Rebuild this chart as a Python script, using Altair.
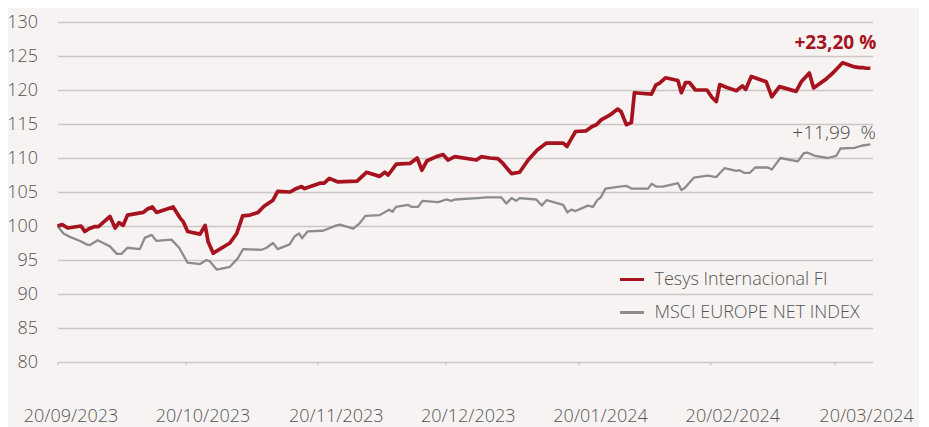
import altair as alt
import pandas as pd

START = "2023-09-20"

series_names = ["Tesys Internacional FI", "MSCI EUROPE NET INDEX"]
series_colors = ["#a6131f", "#8c8c8c"]

# days after 20/09/2023 and index values (base 100)
tesys_days = [0, 1.1, 2.4, 5.5, 6.4, 7.4, 8.6, 9.6, 12.3, 13.5, 14.4, 15.4, 16.4, 20.1, 21.1, 22.2,
              23.2, 27.1, 28.7, 29.5, 30.5, 33.4, 34.6, 35.3, 36.5, 40.4, 42.0, 43.4, 45.1, 47.0,
              48.4, 50.5, 51.6, 54.5, 55.6, 57.2, 57.9, 61.5, 62.5, 63.7, 65.6, 70.2, 72.4, 75.5,
              76.7, 77.5, 79.4, 82.6, 84.3, 85.4, 86.6, 88.8, 90.4, 91.5, 93.1, 98.2, 99.3, 101.3,
              103.2, 104.4, 106.4, 108.3, 110.3, 112.5, 114.6, 118.5, 119.4, 121.4, 123.9, 125.2,
              126.3, 127.4, 129.4, 131.3, 132.1, 133.3, 134.5, 135.2, 139.2, 140.2, 141.1, 142.5,
              145.4, 146.2, 147.2, 148.1, 149.5, 152.2, 153.4, 154.4, 155.2, 156.7, 159.1, 160.5,
              161.3, 162.6, 166.1, 167.4, 169.2, 173.1, 174.3, 176.2, 177.2, 180.1, 181.7, 184.0,
              186.8, 188.0, 188.7, 189.5, 190.5]
tesys_vals = [100.0, 100.2, 99.7, 100.0, 99.2, 99.6, 99.9, 99.9, 101.4, 99.7, 100.5, 100.1, 101.6,
              102.0, 102.5, 102.8, 102.0, 102.8, 101.2, 100.6, 99.2, 98.8, 100.1, 97.7, 96.0, 97.5,
              98.9, 101.5, 101.6, 102.0, 102.9, 103.8, 105.1, 105.0, 105.4, 105.8, 105.5, 106.3,
              106.3, 107.0, 106.5, 106.6, 107.9, 107.3, 107.9, 107.5, 109.1, 109.2, 110.0, 108.2,
              109.6, 110.2, 110.5, 109.7, 110.2, 109.7, 110.2, 110.0, 109.9, 109.2, 107.7, 107.9,
              109.7, 111.2, 112.2, 112.2, 111.7, 113.9, 114.0, 114.6, 114.9, 115.6, 116.3, 117.2,
              116.8, 114.9, 115.2, 119.6, 119.4, 120.7, 121.0, 121.8, 121.4, 119.6, 121.1, 121.1,
              120.0, 120.0, 118.9, 118.3, 120.8, 120.4, 119.9, 120.6, 120.1, 122.0, 121.2, 119.0,
              120.5, 119.8, 121.2, 122.5, 120.3, 121.6, 122.5, 124.0, 123.4, 123.3, 123.3, 123.2,
              123.2]

msci_days = [0, 1.4, 2.9, 5.3, 6.8, 7.6, 9.4, 12.3, 13.9, 15.0, 16.4, 19.3, 20.5, 22.1, 23.2, 26.7,
             28.5, 30.5, 33.4, 34.9, 35.7, 37.3, 40.4, 42.2, 43.5, 47.8, 49.0, 50.5, 51.6, 54.4,
             55.6, 56.6, 57.3, 58.6, 62.2, 65.4, 66.2, 69.3, 70.8, 72.2, 75.5, 77.7, 78.5, 79.3,
             82.2, 83.0, 84.5, 85.5, 89.2, 91.1, 92.3, 93.1, 98.5, 100.5, 104.0, 105.2, 106.4,
             107.5, 108.3, 112.2, 113.5, 114.6, 118.5, 119.5, 120.4, 121.4, 124.3, 125.5, 126.5,
             127.3, 128.4, 131.7, 133.3, 134.5, 138.4, 139.2, 140.3, 141.9, 145.4, 146.2, 147.0,
             149.1, 152.4, 154.4, 156.3, 159.1, 159.8, 161.0, 162.2, 163.5, 166.5, 167.4, 169.4,
             173.5, 174.9, 175.7, 177.6, 180.5, 182.5, 183.5, 186.8, 188.4, 190.5]
msci_vals = [100.0, 98.9, 98.4, 97.8, 97.3, 97.2, 97.9, 97.0, 95.9, 95.9, 96.8, 96.6, 98.3, 98.7,
             97.8, 98.0, 96.8, 94.6, 94.4, 95.0, 94.8, 93.6, 94.0, 95.2, 96.6, 96.5, 96.8, 97.5,
             96.6, 97.3, 98.5, 98.9, 98.2, 99.2, 99.3, 100.1, 100.2, 99.6, 100.4, 101.5, 101.6,
             102.4, 102.1, 102.8, 103.1, 102.8, 102.8, 103.7, 103.5, 103.9, 103.7, 103.9, 104.1,
             104.2, 104.2, 103.3, 104.1, 103.7, 104.1, 103.9, 103.0, 103.8, 103.1, 102.0, 102.4,
             102.2, 103.0, 102.8, 103.8, 104.2, 105.5, 105.8, 105.9, 105.5, 105.5, 106.2, 105.8,
             105.8, 106.3, 105.3, 105.6, 107.1, 107.4, 107.2, 108.5, 108.1, 108.2, 107.8, 107.8,
             108.6, 108.6, 108.3, 110.0, 109.5, 110.7, 110.8, 110.3, 110.0, 110.3, 111.4, 111.5,
             111.8, 112.0]

tick_dates = [(2023, 9, 20), (2023, 10, 20), (2023, 11, 20), (2023, 12, 20),
              (2024, 1, 20), (2024, 2, 20), (2024, 3, 20)]
domain_end = (2024, 3, 29)
y_ticks = [80, 85, 90, 95, 100, 105, 110, 115, 120, 125, 130]

annot_labels = ["+23,20 %", "+11,99\u00a0 %"]
annot_days = [182.3, 182.0]
annot_vals = [126.9, 113.7]
annot_colors = ["#a6131f", "#4a4a4a"]
annot_weights = ["bold", "normal"]

start = pd.Timestamp(START)


def to_dates(days):
    return [start + pd.Timedelta(days=d) for d in days]


tesys_df = pd.DataFrame({"date": to_dates(tesys_days), "value": tesys_vals, "series": series_names[0]})
msci_df = pd.DataFrame({"date": to_dates(msci_days), "value": msci_vals, "series": series_names[1]})
annot_df = pd.DataFrame({"date": to_dates(annot_days), "value": annot_vals, "label": annot_labels,
                         "color": annot_colors, "weight": annot_weights})

FONT = "Open Sans"
GRID = "#cdc5c5"

x_axis = alt.Axis(
    values=[alt.DateTime(year=y, month=m, date=d) for y, m, d in tick_dates],
    format="%d/%m/%Y",
    title=None,
    grid=False,
    domain=False,
    ticks=True,
    tickColor=GRID,
    tickSize=3,
    tickWidth=1.2,
    labelPadding=42,
    labelFontSize=18,
    labelFont=FONT,
    labelFontWeight=300,
    labelColor="#555555",
    labelOverlap=False,
    labelFlush=False,
    labelBound=False,
    labelOffset={"condition": [
        {"test": "month(datum.value) == 8", "value": 13},
        {"test": "month(datum.value) == 9", "value": 17},
        {"test": "month(datum.value) == 10", "value": 18},
        {"test": "month(datum.value) == 2", "value": 32},
    ], "value": 22},
)

y_axis = alt.Axis(
    values=y_ticks,
    tickCount=len(y_ticks),
    title=None,
    grid=True,
    gridColor=GRID,
    gridWidth=1.3,
    domain=False,
    ticks=False,
    labelPadding=20,
    labelFontSize=18,
    labelFont=FONT,
    labelFontWeight=300,
    labelColor="#555555",
    labelOverlap=False,
)

x_enc = alt.X("date:T", axis=x_axis,
              scale=alt.Scale(domain=[alt.DateTime(year=2023, month=9, date=20),
                                      alt.DateTime(year=domain_end[0], month=domain_end[1], date=domain_end[2])]))
y_enc = alt.Y("value:Q", axis=y_axis, scale=alt.Scale(domain=[80, 130], nice=False, zero=False))

legend = alt.Legend(
    title=None,
    orient="none",
    legendX=561,
    legendY=244,
    symbolType="stroke",
    symbolSize=576,
    symbolStrokeWidth=3,
    labelFont=FONT,
    labelFontSize=18,
    labelFontWeight=300,
    labelColor="#555555",
    labelOffset=9,
    labelLimit=0,
    rowPadding=10,
    padding=0,
)
color_enc = alt.Color("series:N", legend=legend,
                      scale=alt.Scale(domain=series_names, range=series_colors))

msci_line = alt.Chart(msci_df).mark_line(strokeWidth=2.3, strokeJoin="round").encode(
    x=x_enc, y=y_enc, color=color_enc)
tesys_line = alt.Chart(tesys_df).mark_line(strokeWidth=3.7, strokeJoin="round").encode(
    x=x_enc, y=y_enc, color=color_enc)

annot_bold = alt.Chart(annot_df).transform_filter(alt.datum.weight == "bold").mark_text(
    font=FONT, fontSize=19, fontWeight="bold", align="center", baseline="middle").encode(
    x=x_enc, y=y_enc, text="label:N",
    color=alt.Color("color:N", scale=None, legend=None))
annot_norm = alt.Chart(annot_df).transform_filter(alt.datum.weight == "normal").mark_text(
    font=FONT, fontSize=19, fontWeight=300, align="center", baseline="middle").encode(
    x=x_enc, y=y_enc, text="label:N",
    color=alt.Color("color:N", scale=None, legend=None))

chart = alt.layer(msci_line, tesys_line, annot_bold, annot_norm).properties(
    width=815,
    height=340,
    autosize=alt.AutoSizeParams(type="none"),
    padding={"left": 49.5, "top": 14, "right": 46, "bottom": 65},
    background="#f6f3f2",
).configure_view(stroke=None)

chart.save("out.html", embed_options={"renderer": "svg", "actions": False})
